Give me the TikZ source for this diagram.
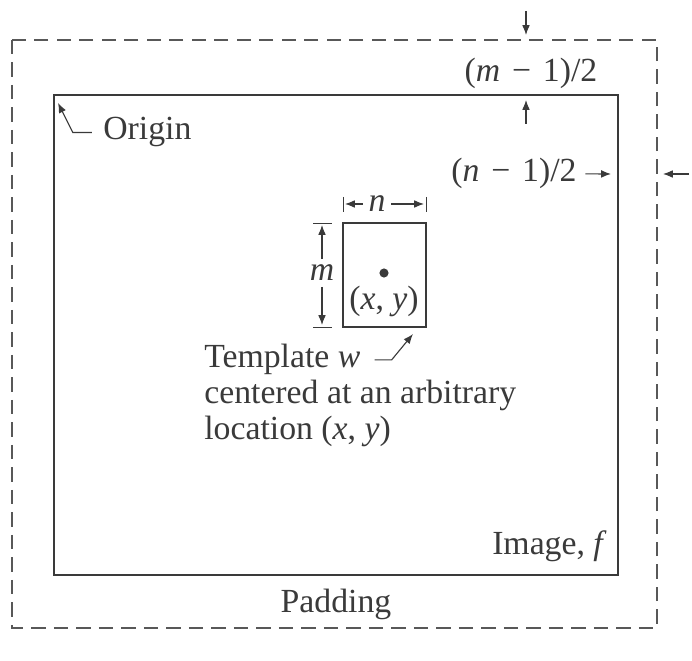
\documentclass[tikz,border=0pt]{standalone}
\usepackage{fontspec}
\setmainfont{Liberation Serif}
\usetikzlibrary{arrows.meta}
\definecolor{ink}{HTML}{3A3A3A}

\begin{document}
\begin{tikzpicture}[x=0.025cm,y=-0.025cm,
  txt/.style={text=ink,font=\fontsize{24}{26}\selectfont,inner sep=0pt},
  dimlbl/.style={txt,inner sep=4pt},
  arr/.style={draw=ink,line width=0.8pt,-{Latex[length=7pt,width=5.5pt]}},
  tick/.style={draw=ink,line width=0.7pt},
  frame/.style={draw=ink,line width=1pt},
  padline/.style={draw=ink!85,line width=0.8pt,dash pattern=on 10pt off 6pt}]
\useasboundingbox (0,0) rectangle (692,661);
% Padding border and image
\coordinate (padNW) at (12,40);
\coordinate (padSE) at (657,628);
\draw[padline] (padNW) rectangle (padSE);
\coordinate (imgNW) at (54,95);
\coordinate (imgSE) at (618,575);
\draw[frame] (imgNW) rectangle (imgSE);
\node[txt,anchor=base east] (imgname) at (607,555) {Image, \textit{f}};
\node[txt,anchor=base] (padname) at (336,613) {Padding};
% Origin
\node[txt,anchor=base west] (origin) at (103,140) {Origin};
\coordinate (origtip) at (58,103);
\draw[arr] ([xshift=-8pt]origin.west) -- ++(-19,0) -- (origtip);
% Padding widths
\node[txt,anchor=base] (mhalf) at (531,82) {(\textit{m}\hspace{0.35em}−\hspace{0.35em}1)/2};
\coordinate (mdown) at (526,11);
\coordinate (padtop) at (526,35);
\coordinate (mup) at (526,124);
\coordinate (imgtop) at (526,100);
\draw[arr] (mdown) -- (padtop);
\draw[arr] (mup) -- (imgtop);
\node[txt,anchor=base] (nhalf) at (514,182) {(\textit{n}\hspace{0.35em}−\hspace{0.35em}1)/2};
\coordinate (imgright) at (611,174);
\draw[arr] ([xshift=6pt]nhalf.east) -- (imgright);
\coordinate (nleft) at (689,174);
\coordinate (padright) at (663,174);
\draw[arr] (nleft) -- (padright);
% Template
\coordinate (tplNW) at (343,223);
\coordinate (tplSE) at (426,327);
\draw[frame] (tplNW) rectangle (tplSE);
\node[circle,fill=ink,inner sep=0pt,minimum size=6.5pt] (ctr) at (384,273) {};
\node[txt,anchor=base] (xy) at (384,310) {(\textit{x}, \textit{y})};
% template size n x m
\draw[tick] (343,197) -- (343,212);
\draw[tick] (426,197) -- (426,212);
\node[dimlbl] (nlbl) at (377,204) {\textit{n}};
\coordinate (nL) at (345,204);
\coordinate (nR) at (424,204);
\draw[arr] (nlbl) -- (nL);
\draw[arr] (nlbl) -- (nR);
\draw[tick] (313,223) -- (332,223);
\draw[tick] (313,327) -- (332,327);
\node[dimlbl] (mlbl) at (322,273) {\textit{m}};
\coordinate (mT) at (322,225);
\coordinate (mB) at (322,325);
\draw[arr] (mlbl) -- (mT);
\draw[arr] (mlbl) -- (mB);
% Caption
\node[txt,anchor=base west] (tname) at (204,368) {Template \textit{w}};
\node[txt,anchor=base west] (tcenter) at (204,404) {centered at an arbitrary};
\node[txt,anchor=base west] (tloc) at (204,440) {location (\textit{x}, \textit{y})};
\coordinate (hooktip) at (413,334);
\draw[arr] ([xshift=10pt]tname.east) -- ++(17,0) -- (hooktip);
\end{tikzpicture}
\end{document}
